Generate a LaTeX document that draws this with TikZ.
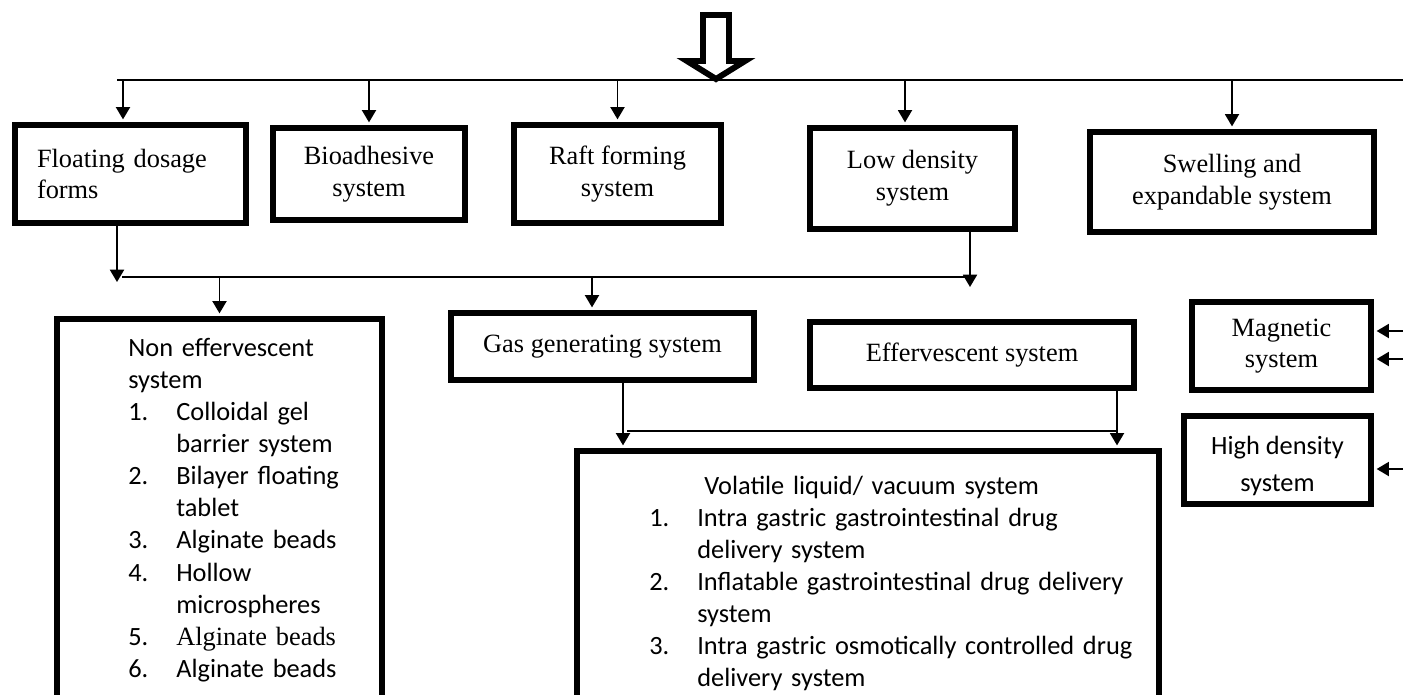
\documentclass[tikz,border=0pt]{standalone}
\usepackage{fontspec}
\setmainfont{Liberation Serif}
\newfontfamily\calibri{Carlito}
\usetikzlibrary{arrows.meta}

\newcommand\numitem[2]{\makebox[0.96cm][l]{#1}#2}
\newcommand\contline[1]{\hspace*{0.96cm}#1}

\begin{document}
\begin{tikzpicture}[
        font=\fontsize{15}{18}\selectfont,
        box/.style={rectangle, draw=black, line width=3.4pt, align=center, inner sep=0pt},
        arr/.style={-{Triangle[length=7pt, width=8pt]}, line width=1pt, shorten >=1.5pt},
        bus/.style={line width=1.1pt},
        listtext/.style={anchor=base west, align=left, inner sep=0pt, font=\calibri\fontsize{15}{18.3}\selectfont}
    ]
        \useasboundingbox (0, 0) rectangle (28.06, -13.88);
        \clip (0, 0) rectangle (28.06, -13.88);

        % Main line and big arrow
        \coordinate (busL) at (2.34, -1.60);
        \coordinate (busR) at (28.06, -1.60);
        \draw[bus] (busL) -- (busR);
        \draw[line width=3.4pt, fill=white] (14.06, -0.30) -- (14.06, -1.22) -- (13.74, -1.22) -- (14.32, -1.58) -- (14.90, -1.22) -- (14.58, -1.22) -- (14.58, -0.30) -- cycle;

        % First row
        \node[box, minimum width=4.62cm, minimum height=1.96cm, align=left, text width=3.74cm] (float) at (2.61, -3.48) {Floating dosage\\forms};
        \node[box, minimum width=3.84cm, minimum height=1.84cm] (bio) at (7.38, -3.48) {Bioadhesive\\system};
        \node[box, minimum width=4.14cm, minimum height=1.96cm] (raft) at (12.35, -3.48) {Raft forming\\system};
        \node[box, minimum width=4.10cm, minimum height=2.02cm] (low) at (18.25, -3.57) {Low density\\system};
        \node[box, minimum width=5.68cm, minimum height=2.00cm] (swell) at (24.64, -3.64) {Swelling and\\expandable system};

        \draw[arr] ([xshift=-0.15cm]float.north |- busL) -- ([xshift=-0.15cm]float.north);
        \draw[arr] (bio.north |- busL) -- (bio.north);
        \draw[arr] (raft.north |- busL) -- (raft.north);
        \draw[arr] ([xshift=-0.15cm]low.north |- busL) -- ([xshift=-0.15cm]low.north);
        \draw[arr] (swell.north |- busL) -- (swell.north);

        % Second row
        \node[box, minimum width=6.06cm, minimum height=1.34cm] (gas) at (12.05, -6.93) {Gas generating system};
        \node[box, minimum width=6.48cm, minimum height=1.32cm] (eff) at (19.44, -7.10) {Effervescent system};
        \node[box, minimum width=3.58cm, minimum height=1.76cm] (mag) at (25.63, -6.92) {Magnetic\\system};
        \node[box, minimum width=3.74cm, minimum height=1.76cm, font=\calibri\fontsize{15}{21}\selectfont] (high) at (25.55, -9.20) {\rule{0pt}{0.62cm}High density\\system};

        \coordinate (bus2L) at (2.44, -5.54);
        \coordinate (bus2R) at (19.30, -5.54);
        \coordinate (floatin) at (2.34, -5.64);
        \coordinate (lowin) at (19.40, -5.74);
        \draw[bus] (bus2L) -- (bus2R);
        \draw[arr, shorten >=0pt] (float.south -| floatin) -- (floatin);
        \draw[arr, shorten >=0pt] (low.south -| lowin) -- (lowin);

        % Bottom boxes
        \node[box, minimum width=6.50cm, minimum height=8.22cm] (noneff) at (4.39, -10.49) {};
        \node[box, minimum width=11.64cm, minimum height=5.58cm] (vol) at (17.36, -11.81) {};

        \draw[arr] (bus2L -| noneff.north) -- (noneff.north);
        \draw[arr] ([xshift=-0.21cm]gas.north |- bus2L) -- ([xshift=-0.21cm]gas.north);

        \node[listtext, text width=4.6cm] (noneffitems) at (2.56, -7.12) {Non effervescent\\system\\
            \numitem{1.}{Colloidal gel}\\ \contline{barrier system}\\
            \numitem{2.}{Bilayer floating}\\ \contline{tablet}\\
            \numitem{3.}{Alginate beads}\\
            \numitem{4.}{Hollow}\\ \contline{microspheres}\\
            \numitem{5.}{{\rmfamily Alginate beads}}\\
            \numitem{6.}{Alginate beads}};

        \node[listtext, text width=10.2cm] (volitems) at (12.98, -9.88) {\hspace*{1.1cm}Volatile liquid/ vacuum system\\
            \numitem{1.}{Intra gastric gastrointestinal drug}\\ \contline{delivery system}\\
            \numitem{2.}{Inflatable gastrointestinal drug delivery}\\ \contline{system}\\
            \numitem{3.}{Intra gastric osmotically controlled drug}\\ \contline{delivery system}};

        % Links to volatile box
        \coordinate (volL) at (12.46, -8.62);
        \coordinate (volR) at (22.34, -8.62);
        \draw[line width=0.7pt] ([xshift=0.08cm]volL) -- (volR);
        \draw[arr] (gas.south -| volL) -- (vol.north -| volL);
        \draw[arr] (eff.south -| volR) -- (vol.north -| volR);

        % Arrows from the right edge
        \coordinate (magin1) at (28.06, -6.62);
        \coordinate (magin2) at (28.06, -7.18);
        \coordinate (highin) at (28.06, -9.38);
        \draw[arr] (magin1) -- (magin1 -| mag.east);
        \draw[arr] (magin2) -- (magin2 -| mag.east);
        \draw[arr] (highin) -- (highin -| high.east);
    \end{tikzpicture}
\end{document}
